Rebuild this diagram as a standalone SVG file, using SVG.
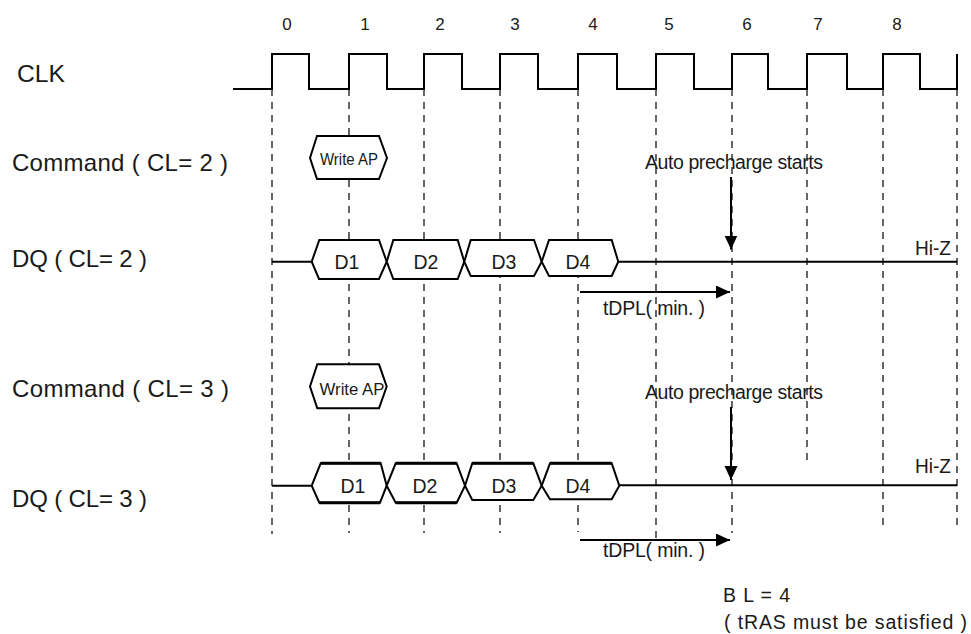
<svg xmlns="http://www.w3.org/2000/svg" width="971" height="634" viewBox="0 0 971 634">
<defs>
<style>
text{font-family:"Liberation Sans",Arial,sans-serif;fill:#1a1a1a}
.big{font-size:24px}
.mid{font-size:19.5px}
.num{font-size:17px;text-anchor:middle}
.sm{font-size:16.5px}
.dash{stroke:#000;stroke-width:1.2;stroke-dasharray:7,6;fill:none}
.sig{stroke:#000;stroke-width:2;fill:none}
.box{stroke:#000;stroke-width:2;fill:#fff;stroke-linejoin:miter}
.thick{stroke:#000;stroke-width:3;fill:none}
.arr{stroke:#000;stroke-width:2;fill:none;marker-end:url(#ah)}
</style>
<marker id="ah" markerUnits="userSpaceOnUse" markerWidth="15" markerHeight="14" refX="14" refY="6.5" orient="auto">
<path d="M0,0 L14,6.5 L0,13 Z" fill="#000"/>
</marker>
</defs>
<rect width="971" height="634" fill="#fff"/>

<g id="labels">
<text class="num" x="287" y="30">0</text>
<text class="num" x="365" y="30">1</text>
<text class="num" x="440" y="30">2</text>
<text class="num" x="515" y="30">3</text>
<text class="num" x="593" y="30">4</text>
<text class="num" x="669" y="30">5</text>
<text class="num" x="747" y="30">6</text>
<text class="num" x="818" y="30">7</text>
<text class="num" x="897" y="30">8</text>
<text class="big" x="17" y="82" textLength="48" lengthAdjust="spacingAndGlyphs">CLK</text>
<text class="big" x="12" y="171" textLength="216" lengthAdjust="spacing">Command ( CL= 2 )</text>
<text class="big" x="12" y="267" textLength="135" lengthAdjust="spacing">DQ ( CL= 2 )</text>
<text class="big" x="12" y="397" textLength="217" lengthAdjust="spacing">Command ( CL= 3 )</text>
<text class="big" x="12" y="507" textLength="135" lengthAdjust="spacing">DQ ( CL= 3 )</text>
<text class="mid" x="723" y="602" textLength="67" lengthAdjust="spacing">B L = 4</text>
<text class="mid" x="724" y="629" textLength="243" lengthAdjust="spacing">( tRAS must be satisfied )</text>
</g>

<g id="connectors">
<line class="dash" x1="272" y1="89" x2="272" y2="534"/>
<line class="dash" x1="349" y1="89" x2="349" y2="533"/>
<line class="dash" x1="424" y1="89" x2="424" y2="533"/>
<line class="dash" x1="500" y1="89" x2="500" y2="533"/>
<line class="dash" x1="578" y1="89" x2="578" y2="532"/>
<line class="dash" x1="656" y1="89" x2="656" y2="543"/>
<line class="dash" x1="732" y1="89" x2="732" y2="533"/>
<line class="dash" x1="807" y1="89" x2="807" y2="462"/>
<line class="dash" x1="883" y1="89" x2="883" y2="525"/>
<line class="dash" x1="957" y1="89" x2="957" y2="525"/>
<line class="arr" x1="731" y1="177" x2="731" y2="249.5"/>
<line class="arr" x1="580" y1="292" x2="730" y2="292"/>
<line class="arr" x1="731" y1="407" x2="731" y2="480"/>
<line class="arr" x1="580" y1="540" x2="730" y2="540"/>
</g>

<g id="clk">
<path class="sig" d="M233,89 H272 V54 H309 V89 H349 V54 H387 V89 H424 V54 H462 V89 H500 V54 H538 V89 H578 V54 H617 V89 H656 V54 H694 V89 H732 V54 H768 V89 H807 V54 H847 V89 H883 V54 H920 V89 H957 V54"/>
</g>

<g id="cmd2">
<polygon class="box" points="310,158 317,136 379,136 387,158 379,179 317,179"/>
<text class="sm" x="320" y="164.5" textLength="58" lengthAdjust="spacingAndGlyphs">Write AP</text>
<text class="mid" x="645" y="169" textLength="178" lengthAdjust="spacing">Auto precharge starts</text>
</g>

<g id="dq2">
<line class="sig" x1="272" y1="261.7" x2="311.7" y2="261.7"/>
<polygon class="box" points="311.7,261.7 319.3,240 379,240 386.7,261.7 379,279 319,279"/>
<polygon class="box" points="386.7,261.7 393.3,240 457.7,240 464.3,261.7 457.7,279 393.3,279"/>
<polygon class="box" points="464.3,261.7 470.7,240 534,240 541.7,261.7 534,276 470.7,276"/>
<polygon class="box" points="541.7,261.7 549,240 611.7,240 618.3,261.7 611.7,276 549,276"/>
<line class="sig" x1="618.3" y1="261.7" x2="957" y2="261.7"/>
<text class="mid" x="347" y="269" text-anchor="middle">D1</text>
<text class="mid" x="426" y="269" text-anchor="middle">D2</text>
<text class="mid" x="504" y="269" text-anchor="middle">D3</text>
<text class="mid" x="578" y="269" text-anchor="middle">D4</text>
<text class="mid" x="915" y="255" textLength="36" lengthAdjust="spacingAndGlyphs">Hi-Z</text>
<text class="mid" x="603" y="315" textLength="102" lengthAdjust="spacing">tDPL( min. )</text>
</g>

<g id="cmd3">
<polygon class="box" points="310,386.5 317.3,364.3 379,364.3 386.7,386.5 379,408.3 317.3,408.3"/>
<text class="sm" x="319.5" y="394.5" textLength="65" lengthAdjust="spacingAndGlyphs">Write AP</text>
<text class="mid" x="645" y="399" textLength="178" lengthAdjust="spacing">Auto precharge starts</text>
</g>

<g id="dq3">
<line class="sig" x1="272" y1="485.7" x2="311.7" y2="485.7"/>
<polygon class="box" points="311.7,485.7 320.7,463.3 380.7,463.3 386.7,485.7 380,502.7 319.3,502.7"/>
<polygon class="box" points="386.7,485.7 395.7,463.3 456.7,463.3 465,485.7 456.7,502.7 395.7,502.7"/>
<polygon class="box" points="465,485.7 472.3,463.3 533.3,463.3 541.7,485.7 533.3,500 472.3,500"/>
<polygon class="box" points="541.7,485.7 550,463.3 611.7,463.3 619.3,485.7 611.7,499.3 550,499.3"/>
<path class="thick" d="M320.7,463.3 H380.7 M395.7,463.3 H456.7 M472.3,463.3 H533.3 M550,463.3 H611.7 M319.3,502.7 H380 M395.7,502.7 H456.7"/>
<line class="sig" x1="619.3" y1="485.3" x2="957" y2="485.3"/>
<text class="mid" x="353" y="493" text-anchor="middle">D1</text>
<text class="mid" x="425" y="493" text-anchor="middle">D2</text>
<text class="mid" x="504" y="493" text-anchor="middle">D3</text>
<text class="mid" x="578" y="493" text-anchor="middle">D4</text>
<text class="mid" x="915" y="473" textLength="36" lengthAdjust="spacingAndGlyphs">Hi-Z</text>
<text class="mid" x="603" y="557" textLength="102" lengthAdjust="spacing">tDPL( min. )</text>
</g>
</svg>
